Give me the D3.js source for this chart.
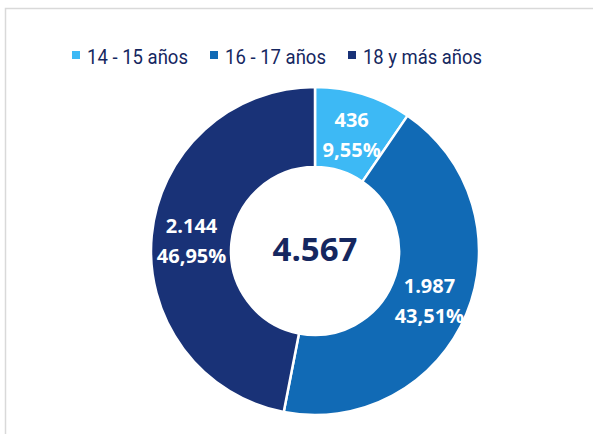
<!DOCTYPE html>
<html><head><meta charset="utf-8">
<script src="https://cdn.jsdelivr.net/npm/d3@7"></script>
<style>html,body{margin:0;padding:0;background:#fff;overflow:hidden}</style>
</head><body>
<svg id="chart" width="593" height="434"></svg>
<script>
const categories = ["14 - 15 años", "16 - 17 años", "18 y más años"];
const values = [436, 1987, 2144];
const percentLabels = ["9,55%", "43,51%", "46,95%"];
const valueLabels = ["436", "1.987", "2.144"];
const totalLabel = "4.567";
const colors = ["#3DB9F5", "#116AB5", "#193277"];

const svg = d3.select("#chart");
svg.append("rect").attr("x", 5.5).attr("y", 8.5).attr("width", 620).attr("height", 460)
  .attr("fill", "#fff").attr("stroke", "#d9d9d9").attr("stroke-width", 1.5);

const cx = 315, cy = 251, R = 164, r = 84;
const pie = d3.pie().sort(null).value(d => d)(values);
const arc = d3.arc().innerRadius(r).outerRadius(R);
const g = svg.append("g").attr("transform", `translate(${cx},${cy})`);
g.selectAll("path").data(pie).join("path")
  .attr("d", arc).attr("fill", (d, i) => colors[i])
  .attr("stroke", "#fff").attr("stroke-width", 2.5);

const lab = g.selectAll("g.lab").data(pie).join("g").attr("class", "lab")
  .attr("transform", d => `translate(${arc.centroid(d)})`);
const font = "'Open Sans', sans-serif";
lab.append("text").attr("text-anchor", "middle").attr("y", -6)
  .attr("fill", "#fff").attr("font-family", font).attr("font-weight", 700).attr("font-size", 20)
  .text((d, i) => valueLabels[i]);
lab.append("text").attr("text-anchor", "middle").attr("y", 24)
  .attr("fill", "#fff").attr("font-family", font).attr("font-weight", 700).attr("font-size", 20)
  .text((d, i) => percentLabels[i]);

g.append("text").attr("text-anchor", "middle").attr("y", 10)
  .attr("fill", "#15275F").attr("font-family", font).attr("font-weight", 700).attr("font-size", 33)
  .text(totalLabel);

// legend
const legendX = [72, 210, 348];
const legendW = [101, 101, 119];
const lg = svg.append("g");
categories.forEach((c, i) => {
  lg.append("rect").attr("x", legendX[i]).attr("y", 51).attr("width", 8).attr("height", 8).attr("fill", colors[i]);
  lg.append("text").attr("x", legendX[i] + 15).attr("y", 63.5)
    .attr("fill", "#15275F").attr("font-family", "Roboto, sans-serif")
    .attr("font-size", 21).attr("textLength", legendW[i]).attr("lengthAdjust", "spacingAndGlyphs")
    .text(c);
});
</script>
</body></html>
